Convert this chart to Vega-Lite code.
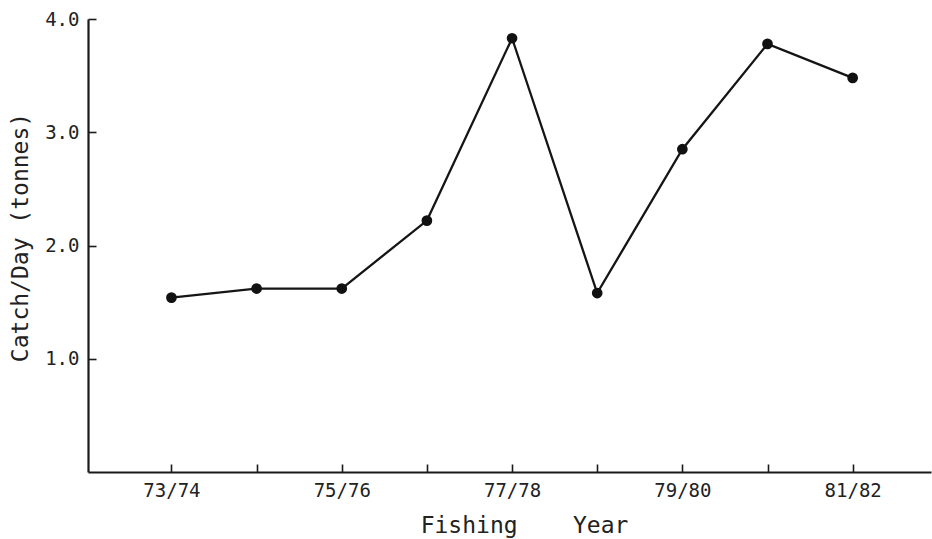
{
  "$schema": "https://vega.github.io/schema/vega-lite/v6.json",
  "autosize": {"type": "none"},
  "width": 843,
  "height": 453,
  "padding": {"left": 88, "top": 19, "right": 1, "bottom": 67},
  "background": "white",
  "config": {
    "view": {"stroke": null},
    "font": "DejaVu Sans Mono",
    "axis": {
      "grid": false,
      "domainColor": "#1a1a1a",
      "domainWidth": 2.2,
      "tickColor": "#1a1a1a",
      "tickWidth": 1.6,
      "labelFont": "DejaVu Sans Mono",
      "labelFontSize": 19,
      "labelColor": "#222222",
      "titleFont": "DejaVu Sans Mono",
      "titleFontWeight": "normal",
      "titleFontSize": 23,
      "titleColor": "#222222"
    }
  },
  "data": {
    "values": [
      {"year": 73, "season": "73/74", "catch": 1.54},
      {"year": 74, "season": "74/75", "catch": 1.62},
      {"year": 75, "season": "75/76", "catch": 1.62},
      {"year": 76, "season": "76/77", "catch": 2.22},
      {"year": 77, "season": "77/78", "catch": 3.83},
      {"year": 78, "season": "78/79", "catch": 1.58},
      {"year": 79, "season": "79/80", "catch": 2.85},
      {"year": 80, "season": "80/81", "catch": 3.78},
      {"year": 81, "season": "81/82", "catch": 3.48}
    ]
  },
  "encoding": {
    "x": {
      "field": "year",
      "type": "quantitative",
      "scale": {"domain": [72.02, 81.92], "nice": false, "zero": false},
      "axis": {
        "title": "Fishing\u00a0\u00a0\u00a0\u00a0Year",
        "values": [73, 74, 75, 76, 77, 78, 79, 80, 81],
        "labelExpr": "datum.value % 2 == 1 ? datum.value + '/' + (datum.value + 1) : ''",
        "tickSize": -8,
        "labelPadding": 17,
        "labelFlush": false,
        "labelOverlap": false,
        "titleX": 436,
        "titleY": 60,
        "titleAlign": "center",
        "titleBaseline": "alphabetic"
      }
    },
    "y": {
      "field": "catch",
      "type": "quantitative",
      "scale": {"domain": [0, 4], "nice": false},
      "axis": {
        "title": "Catch/Day (tonnes)",
        "values": [1, 2, 3, 4],
        "format": ".1f",
        "tickSize": -8,
        "labelPadding": 17,
        "labelFlush": false,
        "titleAngle": -90,
        "titleX": -61,
        "titleY": 218,
        "titleAlign": "center",
        "titleBaseline": "alphabetic"
      }
    }
  },
  "layer": [
    {"mark": {"type": "line", "color": "#151515", "strokeWidth": 2.3}},
    {"mark": {"type": "circle", "color": "#111111", "opacity": 1, "size": 115}}
  ]
}
